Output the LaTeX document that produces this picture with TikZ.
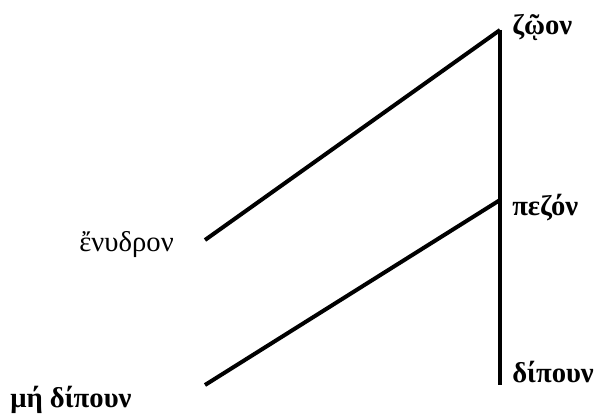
\documentclass[tikz,border=0pt]{standalone}
\usepackage{fontspec}
\setmainfont{Liberation Serif}
\usepackage{tikz}
\usetikzlibrary{positioning}

\begin{document}
\begin{tikzpicture}[x=0.75pt, y=-0.75pt,
  branch/.style={line width=3pt},
  lab/.style={font=\bfseries\fontsize{21.5}{25}\selectfont, inner sep=0pt},
  leaf/.style={font=\fontsize{21.5}{25}\selectfont, inner sep=0pt}]
\useasboundingbox (0,0) rectangle (605,416);
\coordinate (zoon) at (500,30);
\coordinate (pezon) at (500,200);
\coordinate (dipoun) at (500,385);
\coordinate (enydron) at (205,240);
\coordinate (midipoun) at (205,385);
\node[lab, anchor=west] (zoonlab) at (512,28) {ζῷον};
\node[lab, anchor=west] (pezonlab) at (512,208) {πεζόν};
\node[lab, anchor=west] (dipounlab) at (512,372) {δίπουν};
\node[leaf, anchor=east] (enydronlab) at (174,245) {ἔνυδρον};
\node[lab, anchor=west] (midipounlab) at (10,400) {μή δίπουν};
\draw[branch] (zoon) -- (dipoun);
\draw[branch] (zoon) -- (enydron);
\draw[branch] (pezon) -- (midipoun);
\end{tikzpicture}
\end{document}
